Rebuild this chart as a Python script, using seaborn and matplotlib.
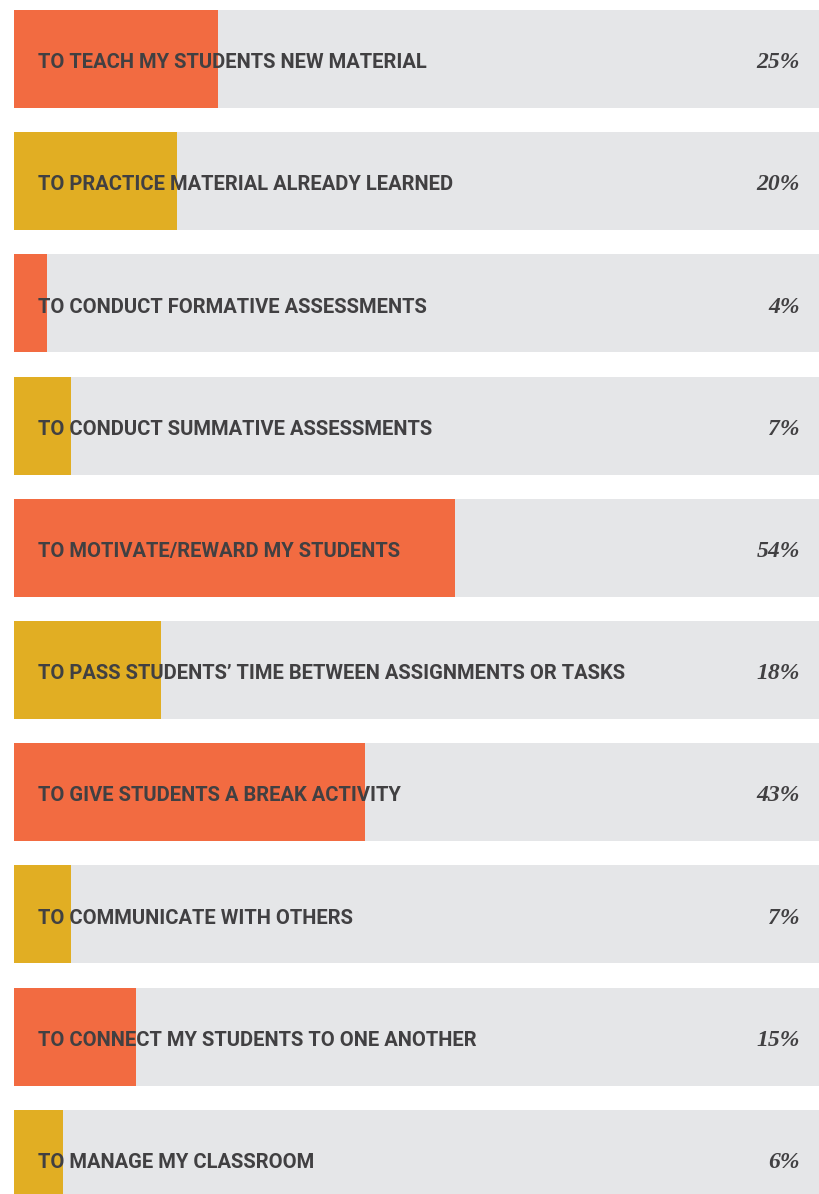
import numpy as np
import pandas as pd
import matplotlib
matplotlib.use('Agg')
import matplotlib.pyplot as plt
import seaborn as sns

labels = [
    "TO TEACH MY STUDENTS NEW MATERIAL",
    "TO PRACTICE MATERIAL ALREADY LEARNED",
    "TO CONDUCT FORMATIVE ASSESSMENTS",
    "TO CONDUCT SUMMATIVE ASSESSMENTS",
    "TO MOTIVATE/REWARD MY STUDENTS",
    "TO PASS STUDENTS\u2019 TIME BETWEEN ASSIGNMENTS OR TASKS",
    "TO GIVE STUDENTS A BREAK ACTIVITY",
    "TO COMMUNICATE WITH OTHERS",
    "TO CONNECT MY STUDENTS TO ONE ANOTHER",
    "TO MANAGE MY CLASSROOM",
]
values = [25, 20, 4, 7, 54, 18, 43, 7, 15, 6]
bar_colors = ["#F26B41", "#E1AE23"] * 5
grey = "#E5E6E8"
text_col = "#414042"

df = pd.DataFrame({"label": labels, "value": values, "full": [100] * len(labels)})

sns.set_style("white")
fig = plt.figure(figsize=(8.2, 11.94), dpi=100)
ax = fig.add_axes([14 / 820, 0, 806 / 820, 1])

# grey track behind each bar
sns.barplot(data=df, x="full", y="label", color=grey, width=0.802,
            saturation=1, linewidth=0, ax=ax)
sns.barplot(data=df, x="value", y="label", hue="label", palette=bar_colors,
            width=0.802, saturation=1, linewidth=0, legend=False, ax=ax)

for i, (lab, v) in enumerate(zip(labels, values)):
    ax.text(2.95, i + 0.03, lab, ha="left", va="center", fontsize=14.5,
            fontweight="bold", color=text_col,
            family=["Liberation Sans Narrow", "Roboto", "DejaVu Sans"])
    ax.text(96.3, i + 0.03, f"{v}%", ha="right", va="center", fontsize=17,
            fontweight="bold", fontstyle="italic", color=text_col,
            family=["Liberation Serif", "DejaVu Serif"])

ax.set_xlim(0, 806 / 8.16)
ax.set_ylim(9.288, -0.483)
ax.axis("off")
fig.savefig("out.png", dpi=100, facecolor="white")
